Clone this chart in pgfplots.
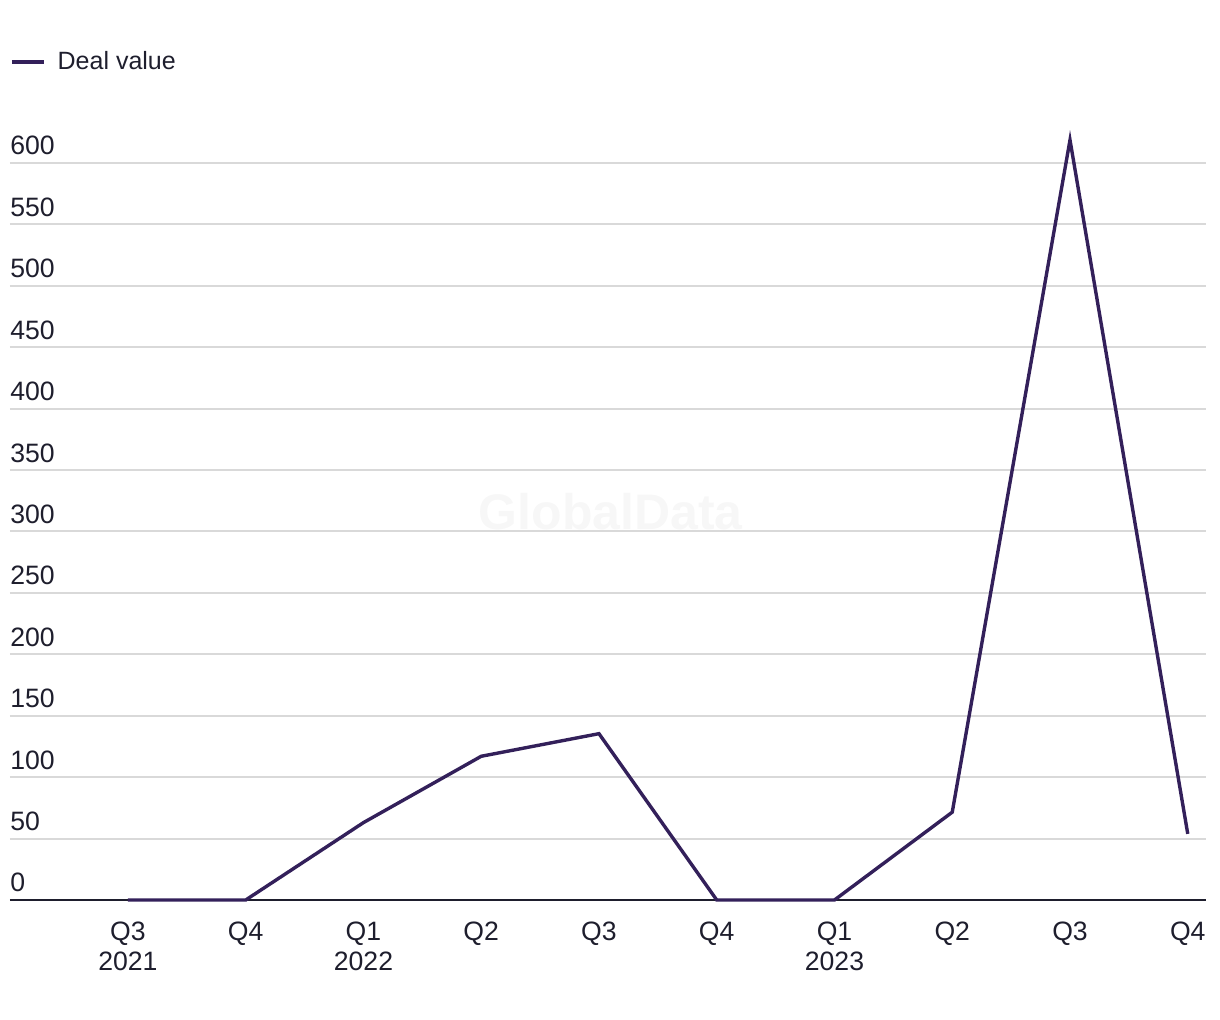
\documentclass[border=0pt]{standalone}
\usepackage{fontspec}
\setmainfont{Liberation Sans}
\usepackage{pgfplots}
\pgfplotsset{compat=1.18}

\definecolor{dealline}{HTML}{33205A}
\definecolor{txt}{HTML}{1E1E2D}
\definecolor{gridc}{HTML}{D9D9D9}

\begin{document}
\begin{tikzpicture}
\begin{axis}[
 at={(5pt,60pt)}, anchor=south west,
 scale only axis,
 width=598pt, height=368.5pt,
 xmin=-1.0017, xmax=9.155,
 ymin=0, ymax=600,
 clip=false,
 axis line style={draw=none},
 major tick length=0pt,
 ytick={0,50,...,600},
 ymajorgrids,
 grid style={color=gridc, line width=1pt},
 xtick={0,...,9},
 xticklabels={{Q3\\2021},Q4,{Q1\\2022},Q2,Q3,Q4,{Q1\\2023},Q2,Q3,Q4},
 font=\fontsize{13.3}{15}\selectfont,
 tick label style={text=txt},
 /pgf/number format/assume math mode=true,
 yticklabel style={anchor=base west, inner sep=0pt, yshift=4pt},
 xticklabel style={anchor=north, align=center, inner sep=0pt, yshift=-11pt},
 legend style={draw=none, fill=none, at={(0,1)}, anchor=south west,
   xshift=0pt, yshift=43pt, inner sep=0pt, font=\fontsize{12.5}{15}\selectfont, text=txt},
 legend cell align=left,
 legend image code/.code={\draw[dealline, line width=1.6pt] (0pt,0pt) -- (16pt,0pt); \path (20pt,0pt);},
]
\node[text=black!3, font=\bfseries\fontsize{25}{30}\selectfont] at (axis cs:4.1,316) {GlobalData};
\draw[txt, line width=1pt] (axis cs:-1.0017,0) -- (axis cs:9.155,0);
\addplot[dealline, line width=1.7pt] coordinates {
 (0,0) (1,0) (2,63) (3,117) (4,135.4) (5,0) (6,0) (7,71.5) (8,618.7) (9,53.8)
};
\addlegendentry{Deal value}
\end{axis}
\pgfresetboundingbox
\path (0,0) rectangle (610pt,510pt);
\end{tikzpicture}
\end{document}
